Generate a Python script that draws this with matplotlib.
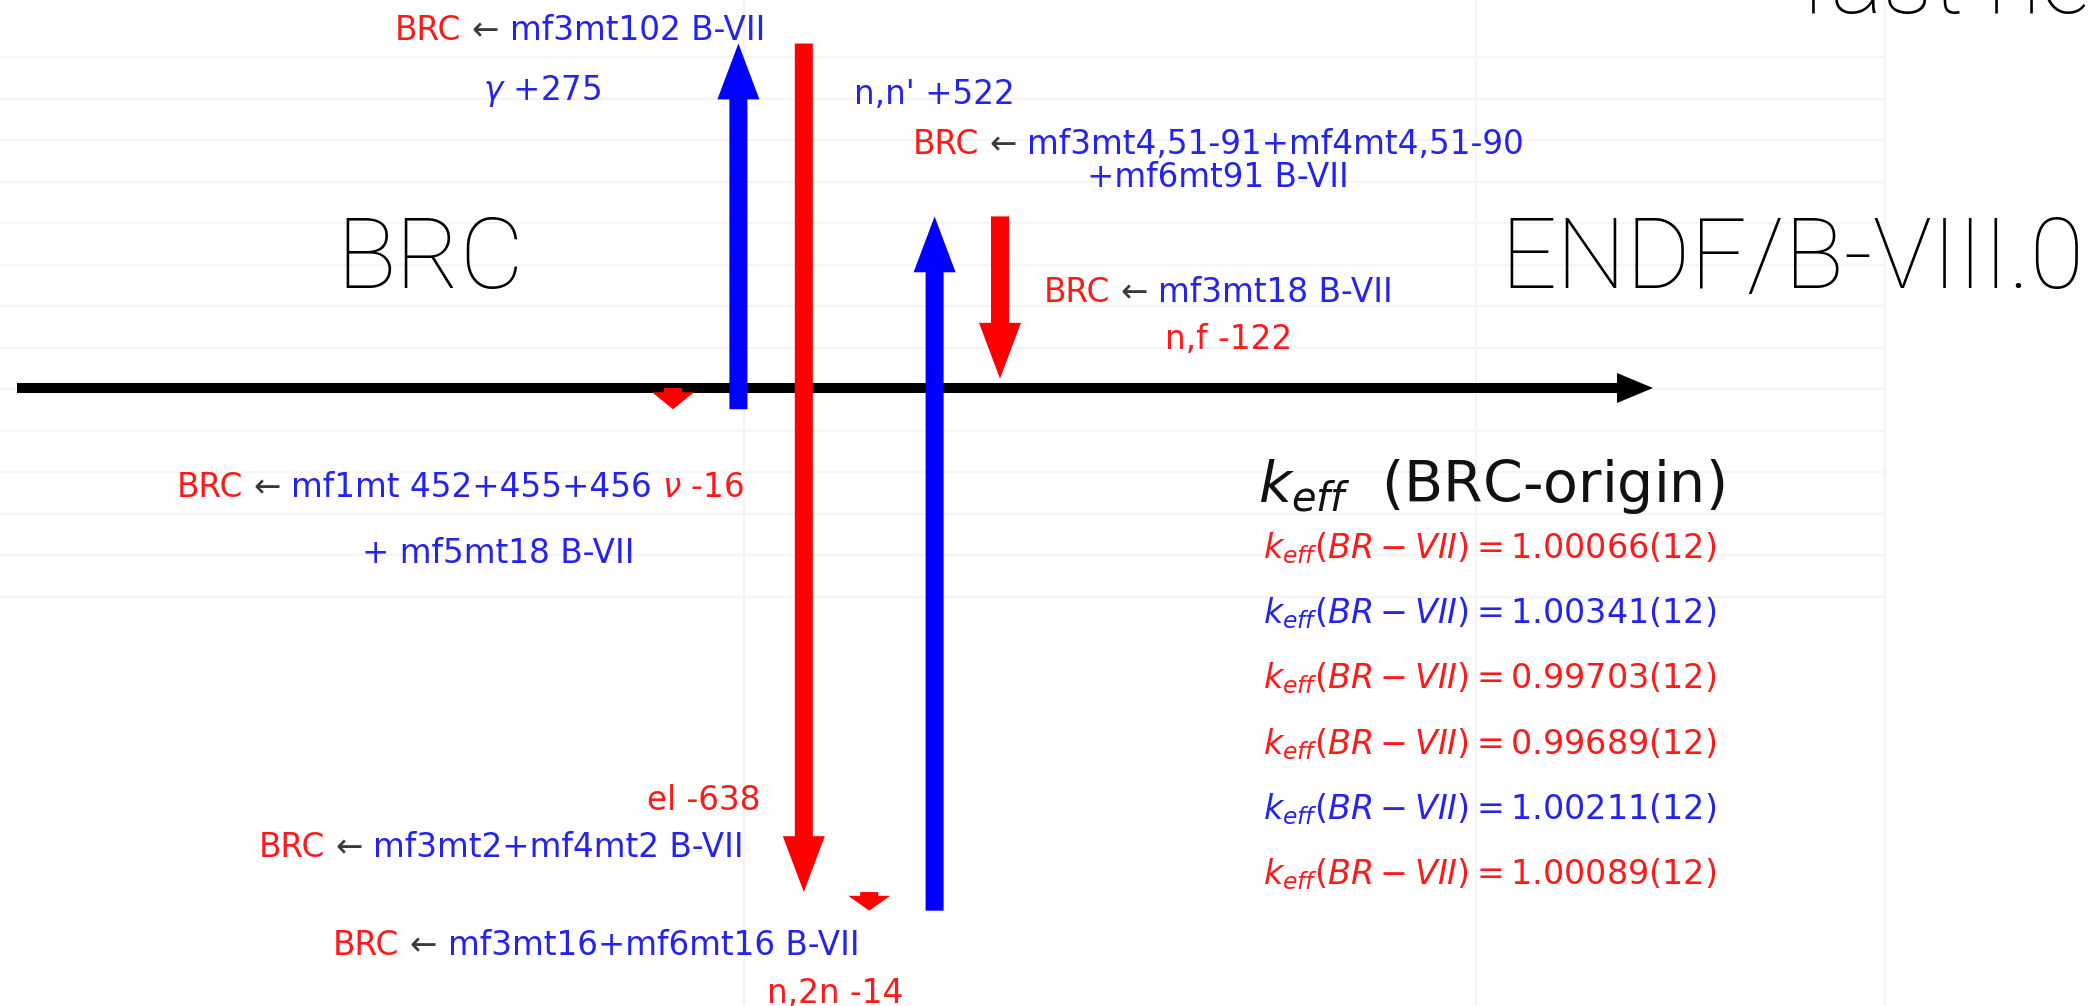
import matplotlib
matplotlib.use('Agg')
import matplotlib.pyplot as plt
import numpy as np

plt.rcParams['mathtext.fontset'] = 'dejavusans'

# k_eff change (pcm) for each channel swapped from B-VII into BRC, applied in order
reactions = [r'$\nu$', r'$\gamma$', 'el', 'n,2n', "n,n'", 'n,f']
delta_pcm = [-16, 275, -638, -14, 522, -122]
keff_steps = [1.00066, 1.00341, 0.99703, 0.99689, 1.00211, 1.00089]
keff_unc = ['12', '12', '12', '12', '12', '12']

RED = '#ff1a1a'
BLUE = '#2424ee'
GREY = '#3a3a3a'
W, H = 2097, 1006

fig = plt.figure(figsize=(W / 100, H / 100), dpi=100)
renderer = fig.canvas.get_renderer()

# background layer in pixel units (y down)
bg = fig.add_axes([0, 0, 1, 1])
bg.set_xlim(0, W)
bg.set_ylim(H, 0)
bg.axis('off')

# faint slide grid
for k in range(14):
    yy = 57 + 41.5 * k
    bg.plot([0, 1885], [yy, yy], color='#f4f4f4', lw=1.5, zorder=0)
for xx in (744, 1476, 1885):
    bg.plot([xx, xx], [0, H], color='#f4f4f4', lw=1.5, zorder=0)

# BRC origin line
bg.arrow(17, 388, 1636, 0, width=10, head_width=30, head_length=36,
         length_includes_head=True, color='black', lw=0, zorder=2)


def colored_line(x, y, pieces, size, ha='center'):
    gap = 0.32 * size * fig.dpi / 72
    texts = [bg.text(0, y, s, color=c, fontsize=size, ha='left', va='baseline', zorder=3)
             for s, c in pieces]
    widths = [t.get_window_extent(renderer).width for t in texts]
    total = sum(widths) + gap * (len(texts) - 1)
    left = {'left': x, 'center': x - total / 2, 'right': x - total}[ha]
    for t, w in zip(texts, widths):
        t.set_x(left)
        left += w + gap


def label(name, d):
    return f'{name} {d:+d}'


fs = 23.5
colored_line(580, 40, [('BRC', RED), ('←', GREY), ('mf3mt102 B-VII', BLUE)], fs)
bg.text(542, 100, label(reactions[1], delta_pcm[1]), color=BLUE, fontsize=fs, ha='center', va='baseline')
bg.text(934, 104, label(reactions[4], delta_pcm[4]), color=BLUE, fontsize=fs, ha='center', va='baseline')
colored_line(1218, 154, [('BRC', RED), ('←', GREY), ('mf3mt4,51-91+mf4mt4,51-90', BLUE)], fs)
bg.text(1218, 187, '+mf6mt91 B-VII', color=BLUE, fontsize=fs, ha='center', va='baseline')
colored_line(1218, 302, [('BRC', RED), ('←', GREY), ('mf3mt18 B-VII', BLUE)], fs)
bg.text(1229, 349, label(reactions[5], delta_pcm[5]), color=RED, fontsize=fs, ha='center', va='baseline')
colored_line(744, 497, [('BRC', RED), ('←', GREY), ('mf1mt 452+455+456', BLUE),
                        (label(reactions[0], delta_pcm[0]), RED)], fs, ha='right')
bg.text(498, 563, '+ mf5mt18 B-VII', color=BLUE, fontsize=fs, ha='center', va='baseline')
bg.text(704, 810, label(reactions[2], delta_pcm[2]), color=RED, fontsize=fs, ha='center', va='baseline')
colored_line(744, 857, [('BRC', RED), ('←', GREY), ('mf3mt2+mf4mt2 B-VII', BLUE)], fs, ha='right')
colored_line(596, 955, [('BRC', RED), ('←', GREY), ('mf3mt16+mf6mt16 B-VII', BLUE)], fs)
bg.text(835, 1003, label(reactions[3], delta_pcm[3]), color=RED, fontsize=fs, ha='center', va='baseline')

# big slide titles
big = dict(family=['Roboto', 'DejaVu Sans'], fontweight='light', fontsize=71,
           color='black', va='baseline')
bg.text(430, 288, 'BRC', ha='center', **big)
bg.text(1792, 288, 'ENDF/B-VIII.0', ha='center', **big)
bg.text(1800, 13, 'fast neutrons', ha='left', **big)

# k_eff summary column
bg.text(1491, 502, r'$k_{eff}$  (BRC-origin)', fontsize=41, color='#111111',
        ha='center', va='baseline')
for i, (k, u, d) in enumerate(zip(keff_steps, keff_unc, delta_pcm)):
    bg.text(1490, 558 + 65.3 * i, f'$k_{{eff}}(BR-VII) =${k:.5f}({u})',
            color=RED if d < 0 else BLUE, fontsize=24, ha='center', va='baseline')

# arrow layer: x in pixels, y in pcm relative to the BRC origin
scale = 1.33  # px per pcm
ax = fig.add_axes([0, 0, 1, 1])
ax.set_xlim(0, W)
ax.set_ylim(-(H - 388) / scale, 388 / scale)
ax.axis('off')
ax.patch.set_visible(False)

arrow_x = 673 + 65.4 * np.arange(len(delta_pcm))
start = np.concatenate([[0], np.cumsum(delta_pcm)[:-1]])
for x, y0, d in zip(arrow_x, start, delta_pcm):
    hl = min(42, 0.8 * abs(d))
    ax.arrow(x, y0, 0, d, width=18, head_width=42, head_length=hl,
             length_includes_head=True, color='#ff0000' if d < 0 else '#0000ff',
             lw=0, zorder=4)

fig.savefig('out.png', dpi=100)
